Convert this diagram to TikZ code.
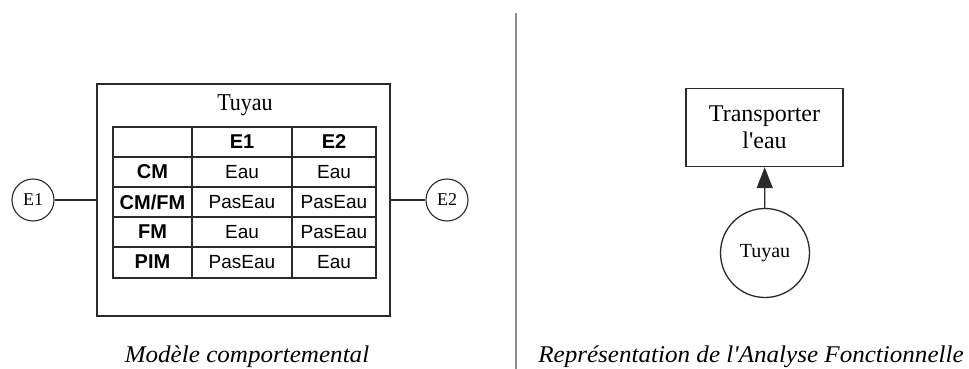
\documentclass[tikz,border=0pt]{standalone}
\usepackage{fontspec}
\setmainfont{Liberation Serif}
\setsansfont{Liberation Sans}
\usetikzlibrary{arrows.meta}
\definecolor{lineg}{HTML}{2A2A2A}
\tikzset{
  box/.style={draw=lineg, line width=1.3pt},
  port/.style={circle, draw=lineg, line width=1.1pt, minimum size=42pt, inner sep=0pt, font=\fontsize{18}{20}\selectfont},
  cell/.style={font=\sffamily\fontsize{19}{21}\selectfont, inner sep=0pt},
  hcell/.style={font=\sffamily\bfseries\fontsize{20}{22}\selectfont, inner sep=0pt},
  grid/.style={draw=lineg, line width=1.4pt},
  caption/.style={font=\itshape\fontsize{24}{26}\selectfont, anchor=base, inner sep=0pt},
}
\begin{document}
\begin{tikzpicture}[x=1pt,y=-1pt]
\useasboundingbox (0,0) rectangle (969,369);
% left part
\draw[box] (97,84) rectangle (390,316);
\node[font=\fontsize{22}{24}\selectfont] (title) at (245,105) {\scalebox{1}[1.1]{Tuyau}};
\coordinate (bl) at (97,200);
\coordinate (br) at (390,200);
\node[port] (e1) at (33,200) {E1};
\node[port] (e2) at (447,200) {E2};
\draw[box, line width=1.1pt] (e1) -- (bl);
\draw[box, line width=1.1pt] (br) -- (e2);
% table
\draw[grid] (113,127) rectangle (376,278);
\foreach \y in {157,187,217,247} \draw[grid] (113,\y) -- (376,\y);
\foreach \x in {192,292} \draw[grid] (\x,127) -- (\x,278);
\node[hcell] (h1) at (242,142) {E1};
\node[hcell] (h2) at (334,142) {E2};
\node[hcell] (r1) at (152.5,172) {CM};
\node[hcell] (r2) at (152.5,202) {CM/FM};
\node[hcell] (r3) at (152.5,232) {FM};
\node[hcell] (r4) at (152.5,262) {PIM};
\node[cell] (c11) at (242,172) {Eau};
\node[cell] (c12) at (334,172) {Eau};
\node[cell] (c21) at (242,202) {PasEau};
\node[cell] (c22) at (334,202) {PasEau};
\node[cell] (c31) at (242,232) {Eau};
\node[cell] (c32) at (334,232) {PasEau};
\node[cell] (c41) at (242,262) {PasEau};
\node[cell] (c42) at (334,262) {Eau};
\node[caption] (cap1) at (247,362) {\scalebox{1.045}[1]{Modèle comportemental}};
% separator
\draw[draw=gray!90, line width=2pt] (516,13) -- (516,369);
% right part
\node[draw=lineg, line width=1.3pt, minimum width=157pt, minimum height=78pt, inner sep=0pt, align=center, font=\fontsize{24}{27}\selectfont] (fn) at (764.5,127.5) {Transporter\\l\textquotesingle eau};
\node[circle, draw=lineg, line width=1.3pt, minimum size=89pt, inner sep=0pt, font=\fontsize{20}{22}\selectfont] (tu) at (765,253) {Tuyau};
\draw[draw=lineg, line width=1.3pt, -{Triangle[length=21pt,width=16pt]}] (tu) -- (fn);
\node[caption] (cap2) at (751,362) {\scalebox{1.045}[1]{Représentation de l\textquotesingle Analyse Fonctionnelle}};
\end{tikzpicture}
\end{document}
